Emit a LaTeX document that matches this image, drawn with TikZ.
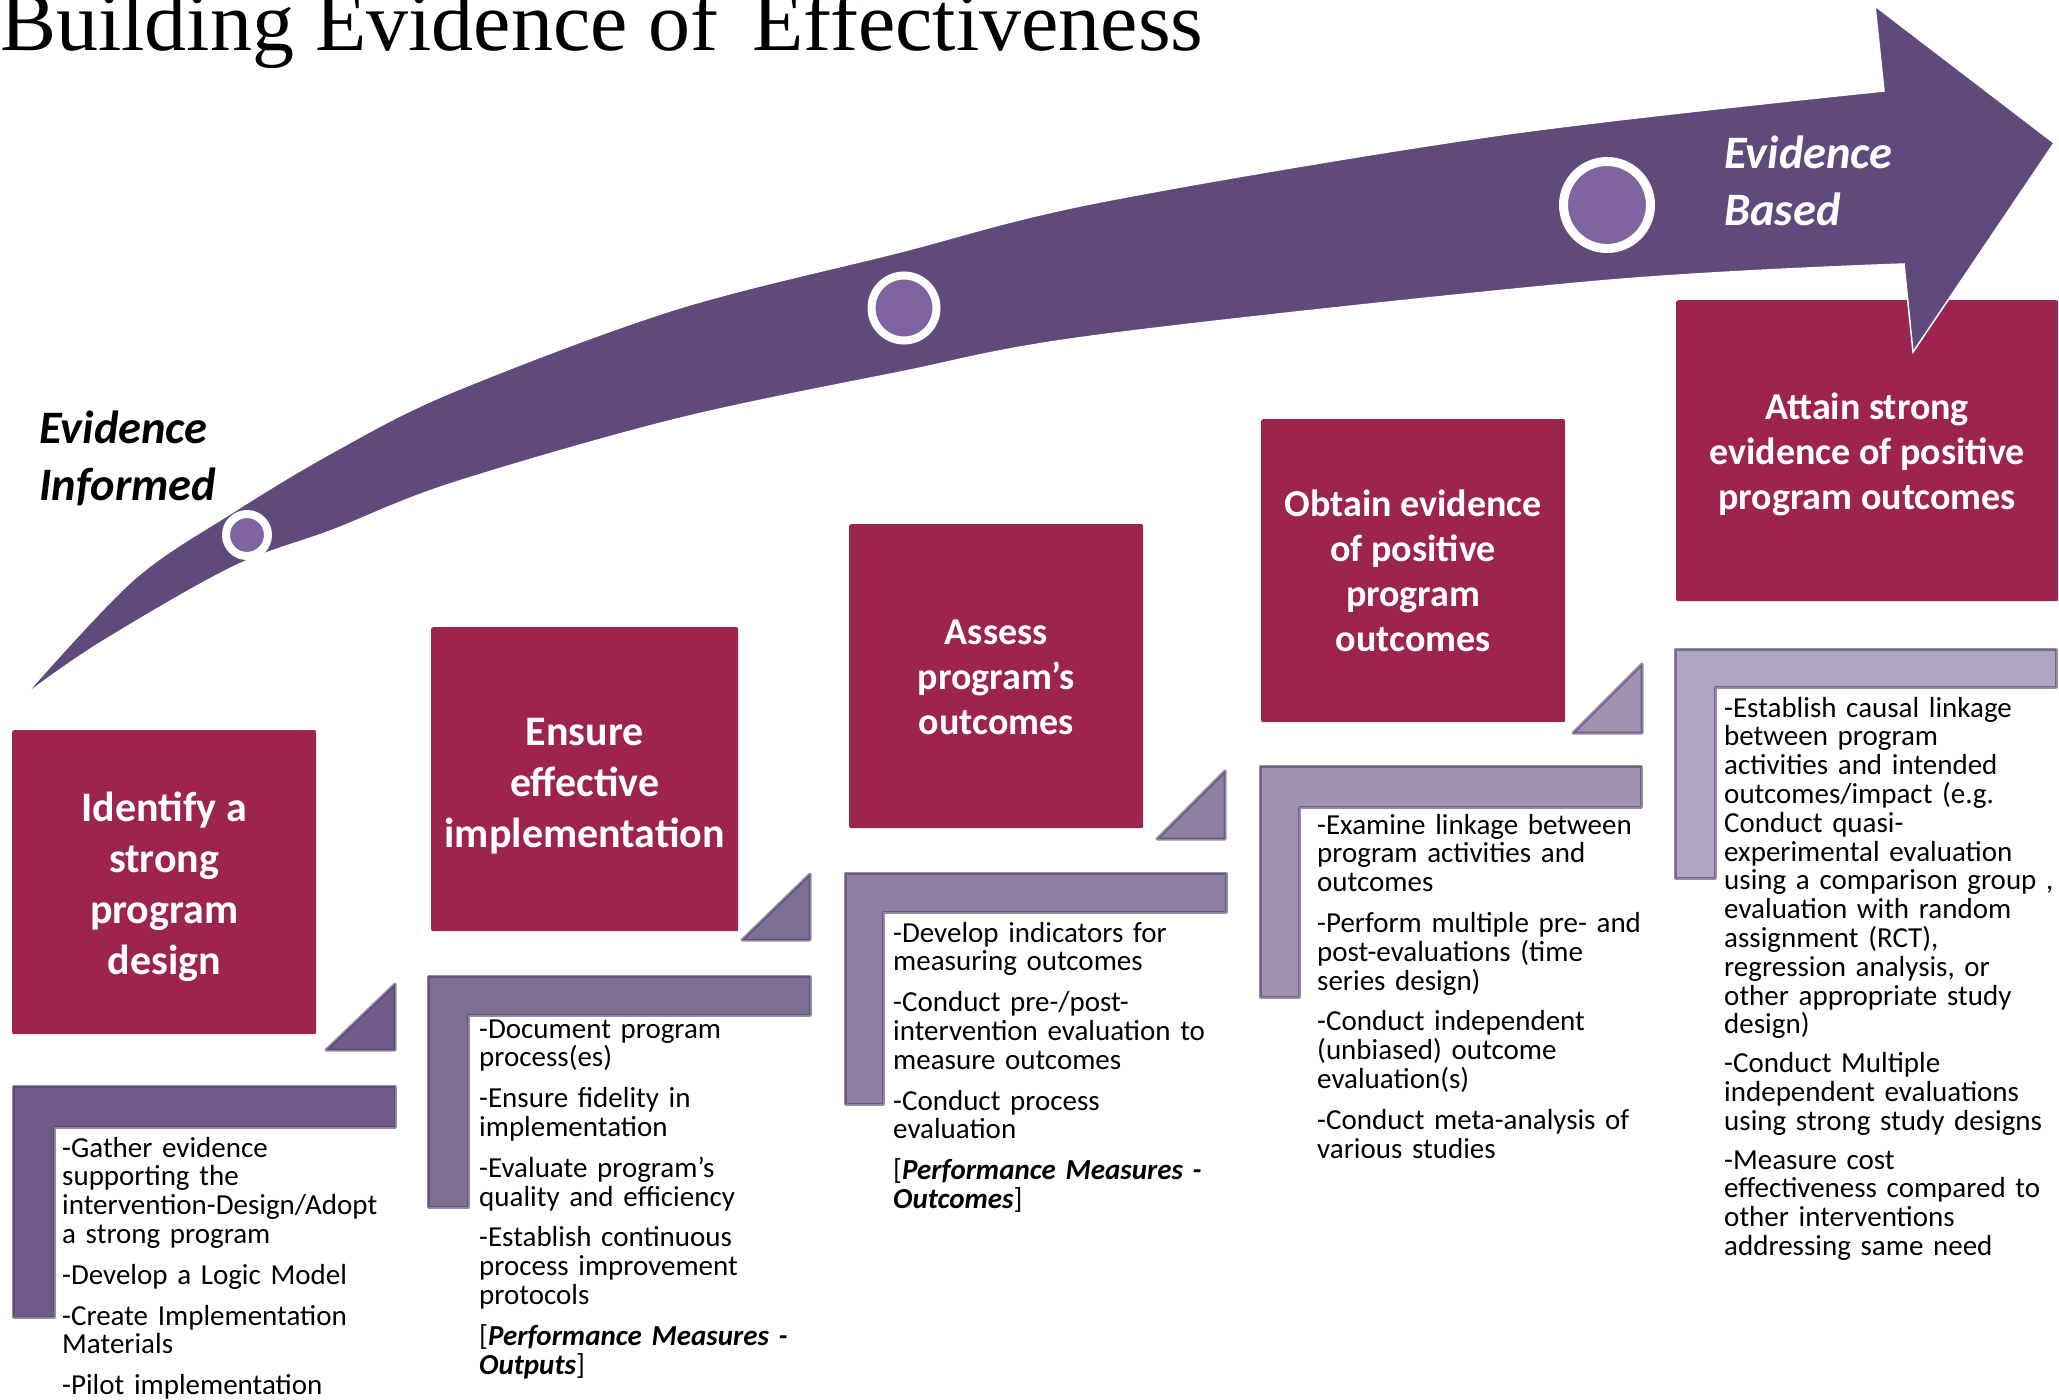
\documentclass[tikz,border=0pt]{standalone}
\usepackage{fontspec}
\setmainfont{Carlito}
\newfontfamily\headfont{Liberation Serif}

\definecolor{arrowpurple}{RGB}{95,74,123}
\definecolor{dotpurple}{RGB}{128,100,162}
\definecolor{berry}{RGB}{158,36,80}
\definecolor{stepA}{RGB}{112,91,136}
\definecolor{stepB}{RGB}{128,111,148}
\definecolor{stepC}{RGB}{143,128,161}
\definecolor{stepD}{RGB}{160,146,176}
\definecolor{stepE}{RGB}{176,166,193}
\definecolor{stepline}{RGB}{84,64,104}

\begin{document}
\begin{tikzpicture}[x=1pt,y=-1pt]
	\tikzstyle{goal} = [rectangle, fill=berry, rounded corners=2pt, anchor=north west, inner sep=0pt, minimum width=304pt, minimum height=304pt]
	\tikzstyle{goaltext} = [align=center, text=white, inner sep=0pt]
	\tikzstyle{bigfont} = [font=\fontsize{42}{51}\selectfont\bfseries]
	\tikzstyle{smallfont} = [font=\fontsize{38}{45}\selectfont\bfseries]
	\tikzstyle{stepshape} = [draw=stepline, draw opacity=0.6, line width=3pt, line join=round]
	\tikzstyle{steptext} = [anchor=base west, inner sep=0pt, text width=345pt, align=left, font=\fontsize{29}{28.8}\selectfont]
	\tikzstyle{stage} = [anchor=base west, inner sep=0pt, text width=220pt, align=left, font=\fontsize{46.5}{57}\selectfont\bfseries\itshape]
	\tikzstyle{dot} = [circle, fill=dotpurple, draw=white, inner sep=0pt]

	\useasboundingbox (0,0) rectangle (2059,1400);

	% title
	\node [anchor=base west, inner sep=0pt, font=\headfont\fontsize{84}{86}\selectfont] (title) at (0,50) {Building Evidence of\hspace{0.4em}Effectiveness};

	% goal boxes
	\node [goal] (design) at (12,730) {};
	\node [goal, minimum width=307pt] (implement) at (431,627) {};
	\node [goal, minimum width=294pt] (assess) at (849,524) {};
	\node [goal, minimum height=303pt] (obtain) at (1261,419) {};
	\node [goal, minimum width=382pt, minimum height=301pt] (attain) at (1676,300) {};

	\node [goaltext, bigfont] (designtext) at ([yshift=-5pt]design.center) {Identify a\\strong\\program\\design};
	\node [goaltext, bigfont] (implementtext) at ([yshift=-7pt]implement.center) {Ensure\\effective\\implementation};
	\node [goaltext, smallfont] (assesstext) at ([yshift=-1pt]assess.center) {Assess\\program’s\\outcomes};
	\node [goaltext, smallfont] (obtaintext) at (obtain.center) {Obtain evidence\\of positive\\program\\outcomes};
	\node [goaltext, smallfont] (attaintext) at ([yshift=-4pt]attain.center) {Attain strong\\evidence of positive\\program outcomes};

	% big arrow
	\fill [arrowpurple, draw=white, line width=1.5pt]
		plot [smooth, tension=0.55] coordinates {(25,695) (133,580) (233,512) (333,452) (450,393) (673,310) (896,253) (1100,202) (1500,135) (1884,91)}
		-- (1875,6) -- (2054,143) -- (1913,352) -- (1904,264)
		-- plot [smooth, tension=0.55] coordinates {(1904,264) (1600,281) (1100,335) (896,373) (673,420) (450,484) (333,530) (233,567) (100,643) (25,695)}
		-- cycle;

	\node [dot, minimum size=42pt, line width=8pt] (informed) at (247,535) {};
	\node [dot, minimum size=65pt, line width=8pt] (midway) at (904,308) {};
	\node [dot, minimum size=87pt, line width=9pt] (based) at (1607,205) {};

	\node [stage, text=black] (informedlabel) at (39,443) {Evidence\\Informed};
	\node [stage, text=white] (basedlabel) at (1724,168) {Evidence\\Based};

	% steps
	\draw [stepshape, fill=stepA] (326,1050) -- (395,984) -- (395,1050) -- cycle;
	\draw [stepshape, fill=stepA] (13,1086) -- (395,1086) -- (395,1127) -- (54,1127) -- (54,1317) -- (13,1317) -- cycle;
	\draw [stepshape, fill=stepB] (742,940) -- (810,874) -- (810,940) -- cycle;
	\draw [stepshape, fill=stepB] (428,976) -- (810,976) -- (810,1015) -- (468,1015) -- (468,1207) -- (428,1207) -- cycle;
	\draw [stepshape, fill=stepC] (1157,839) -- (1225,771) -- (1225,839) -- cycle;
	\draw [stepshape, fill=stepC] (845,873) -- (1226,873) -- (1226,912) -- (883,912) -- (883,1104) -- (845,1104) -- cycle;
	\draw [stepshape, fill=stepD] (1573,733) -- (1642,664) -- (1642,733) -- cycle;
	\draw [stepshape, fill=stepD] (1260,766) -- (1641,766) -- (1641,807) -- (1299,807) -- (1299,997) -- (1260,997) -- cycle;
	\draw [stepshape, fill=stepE] (1675,649) -- (2056,649) -- (2056,687) -- (1715,687) -- (1715,878) -- (1675,878) -- cycle;

	\node [steptext] (designlist) at (62,1157) {-Gather evidence\\supporting the\\intervention-Design/Adopt\\a strong program\\[12pt]-Develop a Logic Model\\[12pt]-Create Implementation\\Materials\\[12pt]-Pilot implementation};
	\node [steptext] (implementlist) at (479,1038) {-Document program\\process(es)\\[12pt]-Ensure fidelity in\\implementation\\[12pt]-Evaluate program’s\\quality and efficiency\\[12pt]-Establish continuous\\process improvement\\protocols\\[12pt][\textbf{\textit{Performance Measures -}}\\\textbf{\textit{Outputs}}]};
	\node [steptext] (assesslist) at (893,942) {-Develop indicators for\\measuring outcomes\\[12pt]-Conduct pre-/post-\\intervention evaluation to\\measure outcomes\\[12pt]-Conduct process\\evaluation\\[12pt][\textbf{\textit{Performance Measures -}}\\\textbf{\textit{Outcomes}}]};
	\node [steptext] (obtainlist) at (1317,834) {-Examine linkage between\\program activities and\\outcomes\\[12pt]-Perform multiple pre- and\\post-evaluations (time\\series design)\\[12pt]-Conduct independent\\(unbiased) outcome\\evaluation(s)\\[12pt]-Conduct meta-analysis of\\various studies};
	\node [steptext] (attainlist) at (1724,717) {-Establish causal linkage\\between program\\activities and intended\\outcomes/impact (e.g.\\Conduct quasi-\\experimental evaluation\\using a comparison group ,\\evaluation with random\\assignment (RCT),\\regression analysis, or\\other appropriate study\\design)\\[10pt]-Conduct Multiple\\independent evaluations\\using strong study designs\\[10pt]-Measure cost\\effectiveness compared to\\other interventions\\addressing same need};
\end{tikzpicture}
\end{document}
